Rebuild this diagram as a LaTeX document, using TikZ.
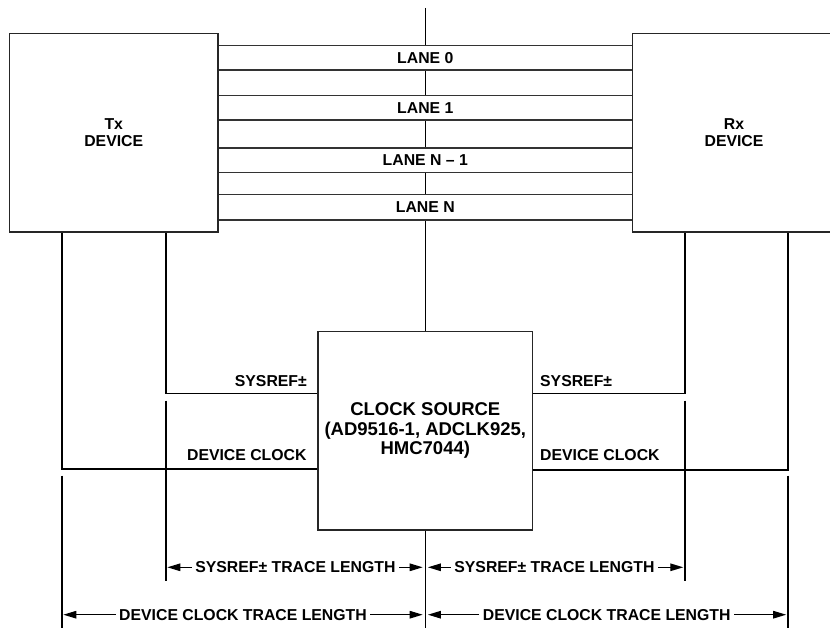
\documentclass[tikz,border=0pt]{standalone}
\usepackage{fontspec}
\setmainfont{Liberation Sans}
\usetikzlibrary{arrows.meta}
\begin{document}
\begin{tikzpicture}[x=1pt,y=-1pt,
  every node/.style={font=\fontsize{15.8}{17}\selectfont\bfseries, inner sep=0pt},
  devbox/.style={draw=black!85, line width=1.6pt, fill=white, align=center},
  clkfont/.style={font=\fontsize{18.5}{19.5}\selectfont\bfseries},
  wire/.style={draw=black, line width=1.6pt},
  laneline/.style={draw=black!80, line width=1.6pt},
  laneband/.style={fill=white},
  midline/.style={draw=black, line width=1.1pt},
  extline/.style={draw=black, line width=1.6pt},
  dimarrow/.style={draw=black, line width=1.3pt, -{Triangle[length=13pt,width=7.5pt]}},
  dimtext/.style={inner xsep=3.5pt, inner ysep=0pt},
]
\useasboundingbox (0,0) rectangle (830,628);

% devices
\node[devbox, minimum width=208.5pt, minimum height=198.5pt] (tx) at (113.75,132.75) {Tx\\DEVICE};
\node[devbox, minimum width=203pt, minimum height=198.5pt] (rx) at (734,132.75) {Rx\\DEVICE};
\node[devbox, clkfont, minimum width=214.6pt, minimum height=198pt] (clk) at (425.3,430.7) {CLOCK SOURCE\\(AD9516-1, ADCLK925,\\HMC7044)};

% centre line
\coordinate (ctop) at (425.3,8);
\coordinate (cbot) at (425.3,628);
\draw[midline] (ctop) -- (clk.north);
\draw[midline] (clk.south) -- (cbot);

% lanes
\coordinate (L1) at (425.3,45.7);
\coordinate (L2) at (425.3,70.3);
\coordinate (L3) at (425.3,95.7);
\coordinate (L4) at (425.3,120);
\coordinate (L5) at (425.3,148);
\coordinate (L6) at (425.3,172.7);
\coordinate (L7) at (425.3,194.7);
\coordinate (L8) at (425.3,220);
\fill[laneband] (tx.east |- L1) rectangle (rx.west |- L2);
\fill[laneband] (tx.east |- L3) rectangle (rx.west |- L4);
\fill[laneband] (tx.east |- L5) rectangle (rx.west |- L6);
\fill[laneband] (tx.east |- L7) rectangle (rx.west |- L8);
\foreach \l in {L1,L2,L3,L4,L5,L6,L7,L8}
  \draw[laneline] (tx.east |- \l) -- (rx.west |- \l);
\node (lane0) at (425.3,58) {LANE 0};
\node (lane1) at (425.3,107.9) {LANE 1};
\node (laneN1) at (425.3,160.3) {LANE N – 1};
\node (laneN) at (425.3,207.4) {LANE N};

% clock connections
\coordinate (sL) at (165.7,393.3);
\coordinate (dL) at (61.7,469);
\coordinate (sR) at (685,393.3);
\coordinate (dR) at (787.7,469.7);
\draw[wire] (tx.south -| sL) |- (clk.west |- sL);
\draw[wire] (tx.south -| dL) |- (clk.west |- dL);
\draw[wire] (rx.south -| sR) |- (clk.east |- sR);
\draw[wire] (rx.south -| dR) |- (clk.east |- dR);
\node[anchor=east] (sysL) at (307,381) {SYSREF±};
\node[anchor=west] (sysR) at (540,381) {SYSREF±};
\node[anchor=east] (dcL) at (306.7,455) {DEVICE CLOCK};
\node[anchor=west] (dcR) at (540,455) {DEVICE CLOCK};

% extension lines
\coordinate (eL1a) at (165.7,400.5);
\coordinate (eL1b) at (165.7,580.7);
\coordinate (eR1a) at (685,400.5);
\coordinate (eR1b) at (685,580.7);
\coordinate (eL2a) at (61.7,475.7);
\coordinate (eL2b) at (61.7,628);
\coordinate (eR2a) at (787.7,475.7);
\coordinate (eR2b) at (787.7,628);
\draw[extline] (eL1a) -- (eL1b);
\draw[extline] (eR1a) -- (eR1b);
\draw[extline] (eL2a) -- (eL2b);
\draw[extline] (eR2a) -- (eR2b);

% dimensions
\coordinate (tsL1) at (167.3,567.3);
\coordinate (tsL2) at (422.7,567.3);
\coordinate (tsR1) at (427.9,567.3);
\coordinate (tsR2) at (683.3,567.3);
\coordinate (tdL1) at (63.3,614.7);
\coordinate (tdL2) at (422.7,614.7);
\coordinate (tdR1) at (427.9,614.7);
\coordinate (tdR2) at (786.2,614.7);
\node[dimtext] (sdL) at (295.4,567.3) {SYSREF± TRACE LENGTH};
\node[dimtext] (sdR) at (554.4,567.3) {SYSREF± TRACE LENGTH};
\node[dimtext] (ddL) at (243,614.7) {DEVICE CLOCK TRACE LENGTH};
\node[dimtext] (ddR) at (606.7,614.7) {DEVICE CLOCK TRACE LENGTH};
\draw[dimarrow] (sdL.west) -- (tsL1);
\draw[dimarrow] (sdL.east) -- (tsL2);
\draw[dimarrow] (sdR.west) -- (tsR1);
\draw[dimarrow] (sdR.east) -- (tsR2);
\draw[dimarrow] (ddL.west) -- (tdL1);
\draw[dimarrow] (ddL.east) -- (tdL2);
\draw[dimarrow] (ddR.west) -- (tdR1);
\draw[dimarrow] (ddR.east) -- (tdR2);
\end{tikzpicture}
\end{document}
